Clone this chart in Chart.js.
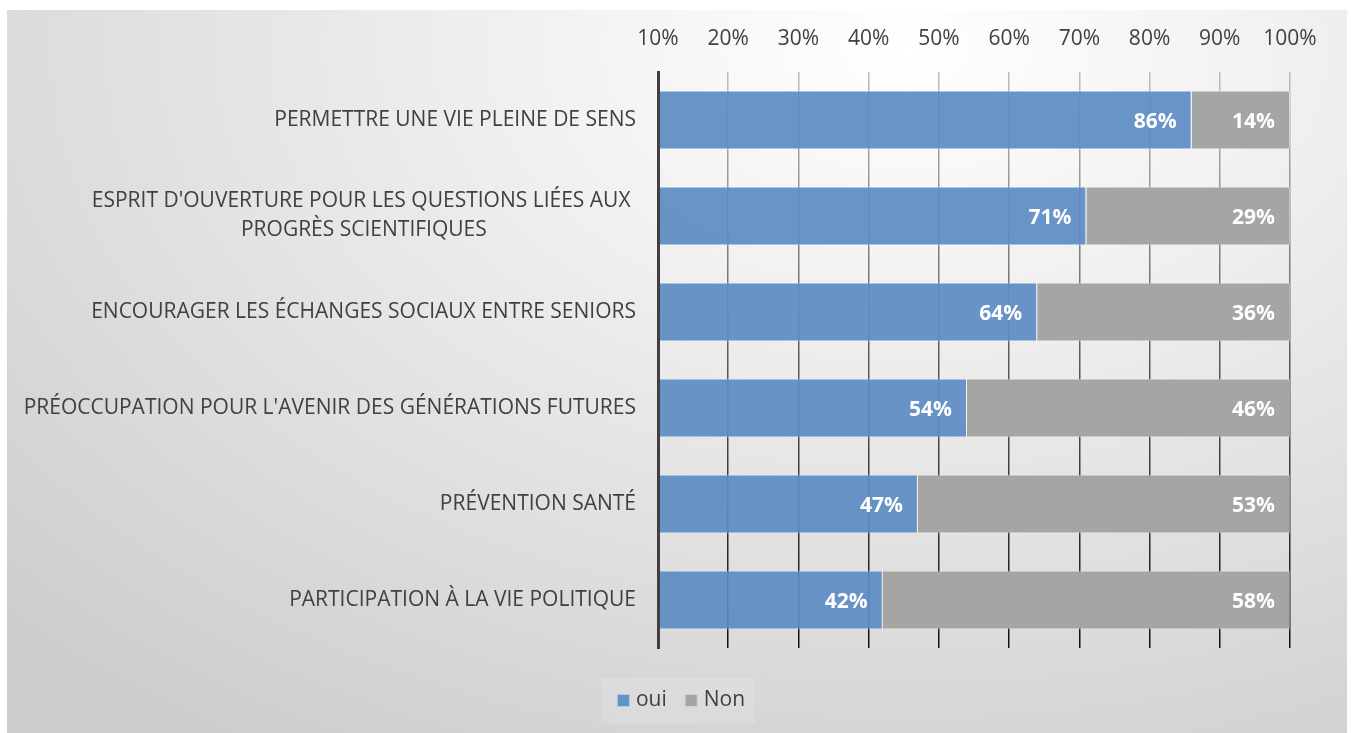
<!DOCTYPE html>
<html>
<head>
<meta charset="utf-8">
<script src="https://cdn.jsdelivr.net/npm/chart.js@4"></script>
<style>
  html, body { margin: 0; padding: 0; background: #fff; }
  #bg {
    position: absolute; left: 7px; top: 10px; width: 1340px; height: 723px;
    background: radial-gradient(ellipse 1250px 820px at 900px 40px, #ffffff 0%, #f1f1f1 30%, #cdcdcd 100%);
  }
  #chart { position: absolute; left: 0; top: 0; }
</style>
</head>
<body>
<div id="bg"></div>
<canvas id="chart" width="1351" height="733"></canvas>
<script>
const categories = [
    ['PERMETTRE UNE VIE PLEINE DE SENS'],
    ["ESPRIT D'OUVERTURE POUR LES QUESTIONS LIÉES AUX ", 'PROGRÈS SCIENTIFIQUES'],
    ['ENCOURAGER LES ÉCHANGES SOCIAUX ENTRE SENIORS'],
    ["PRÉOCCUPATION POUR L'AVENIR DES GÉNÉRATIONS FUTURES"],
    ['PRÉVENTION SANTÉ'],
    ['PARTICIPATION À LA VIE POLITIQUE']
];
const ouiValues = [86, 71, 64, 54, 47, 42];
const nonValues = [14, 29, 36, 46, 53, 58];
const xMin = 10;
const xMax = 100;

const FONT = "'Open Sans', sans-serif";
const TEXT = '#404040';

// category labels drawn by hand so the 2-line label can be centered inside its block
const categoryLabels = {
    id: 'categoryLabels',
    afterDraw(chart) {
        const ctx = chart.ctx;
        const y = chart.scales.y;
        const right = chart.chartArea.left - 22;
        ctx.save();
        ctx.font = '21px ' + FONT;
        ctx.fillStyle = TEXT;
        ctx.textBaseline = 'middle';
        ctx.textAlign = 'center';
        categories.forEach((lines, i) => {
            const cy = y.getPixelForValue(i);
            const w = Math.max(...lines.map(l => ctx.measureText(l).width));
            const lh = 29;
            lines.forEach((l, j) => {
                ctx.fillText(l, right - w / 2, cy + (j - (lines.length - 1) / 2) * lh);
            });
        });
        ctx.restore();
    }
};

// value labels at the end of each bar
const barValues = {
    id: 'barValues',
    afterDatasetsDraw(chart) {
        const ctx = chart.ctx;
        ctx.save();
        ctx.font = 'bold 21px ' + FONT;
        ctx.fillStyle = '#ffffff';
        ctx.textAlign = 'right';
        ctx.textBaseline = 'middle';
        chart.data.datasets.forEach((ds, di) => {
            chart.getDatasetMeta(di).data.forEach((bar, i) => {
                ctx.fillText(ds.data[i] + '%', bar.x - 15, bar.y + 2);
            });
        });
        ctx.restore();
    }
};

// legend at the bottom
const bottomLegend = {
    id: 'bottomLegend',
    afterDraw(chart) {
        const ctx = chart.ctx;
        const ds = chart.data.datasets;
        ctx.save();
        ctx.font = '21px ' + FONT;
        const box = 13, gapText = 6, gapItem = 18;
        const widths = ds.map(d => box + gapText + ctx.measureText(d.label).width);
        const total = widths.reduce((a, b) => a + b, 0) + gapItem * (ds.length - 1);
        let x = 681 - total / 2;
        const cy = 700;
        ctx.fillStyle = 'rgba(255,255,255,0.14)';
        ctx.fillRect(x - 16, cy - 22, total + 26, 45);
        ds.forEach((d, i) => {
            ctx.fillStyle = d.legendColor;
            ctx.fillRect(x, cy - 6, box, box);
            ctx.strokeStyle = 'rgba(255,255,255,0.5)';
            ctx.lineWidth = 1;
            ctx.strokeRect(x + 0.5, cy - 5.5, box - 1, box - 1);
            ctx.fillStyle = TEXT;
            ctx.textBaseline = 'middle';
            ctx.fillText(d.label, x + box + gapText, cy);
            x += widths[i] + gapItem;
        });
        ctx.restore();
    }
};

Chart.defaults.font.family = FONT;
Chart.defaults.color = TEXT;

new Chart(document.getElementById('chart'), {
    type: 'bar',
    data: {
        labels: categories,
        datasets: [{
            label: 'oui',
            data: ouiValues,
            backgroundColor: 'rgba(92,140,196,0.93)',
            legendColor: '#6592c6',
            borderColor: 'rgba(255,255,255,0.45)',
            borderWidth: 1,
            barPercentage: 0.615,
            categoryPercentage: 1
        }, {
            label: 'Non',
            data: nonValues,
            backgroundColor: '#a5a5a5',
            legendColor: '#a5a5a5',
            borderColor: 'rgba(255,255,255,0.45)',
            borderWidth: 1,
            barPercentage: 0.615,
            categoryPercentage: 1
        }]
    },
    options: {
        indexAxis: 'y',
        responsive: false,
        animation: false,
        layout: { padding: { left: 0, top: 0, right: 61, bottom: 85 } },
        scales: {
            x: {
                position: 'top',
                stacked: true,
                min: xMin,
                max: xMax,
                ticks: {
                    stepSize: 10,
                    padding: 20,
                    color: TEXT,
                    font: { size: 21 },
                    callback: v => v + '%'
                },
                grid: {
                    drawTicks: false,
                    lineWidth: 1.5,
                    color: (c) => {
                        const a = c.chart.chartArea;
                        if (!a) return '#777';
                        const g = c.chart.ctx.createLinearGradient(0, a.top, 0, a.bottom);
                        g.addColorStop(0, '#bdbdbd');
                        g.addColorStop(0.5, '#5a5a5a');
                        g.addColorStop(1, '#111111');
                        return g;
                    }
                },
                border: { display: false },
                afterFit: s => { s.height = 72; }
            },
            y: {
                stacked: true,
                ticks: { display: false },
                grid: { display: false },
                border: { display: true, color: '#404040', width: 3, z: 1 },
                afterFit: s => { s.width = 658; }
            }
        },
        plugins: {
            legend: { display: false },
            tooltip: { enabled: false }
        }
    },
    plugins: [categoryLabels, barValues, bottomLegend]
});
</script>
</body>
</html>
